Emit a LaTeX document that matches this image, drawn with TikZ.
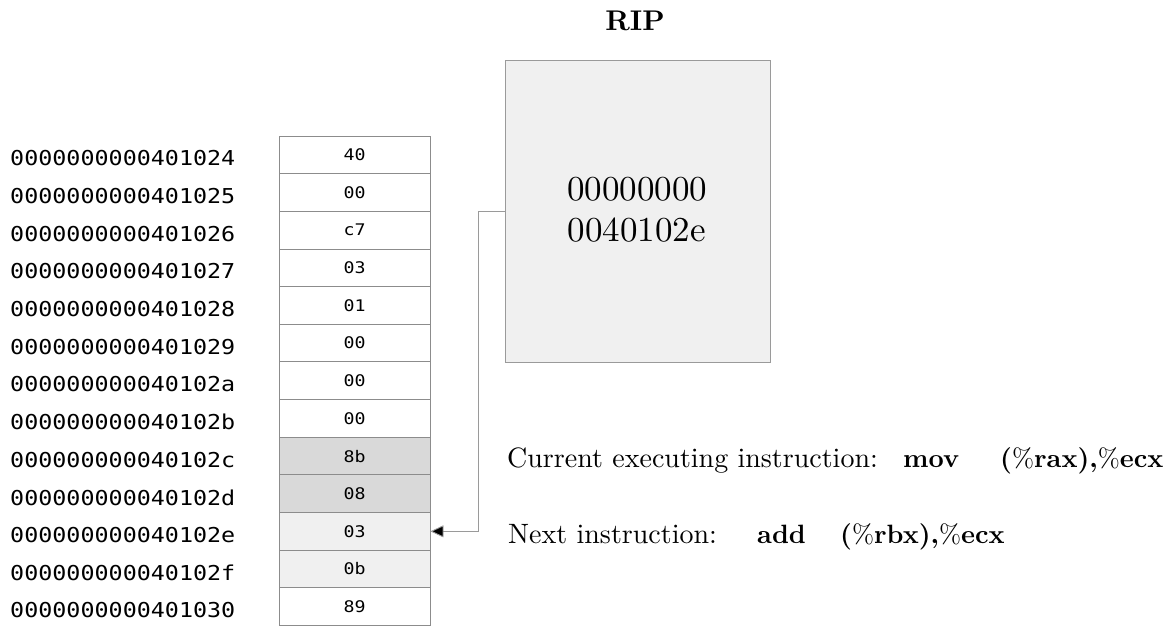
\documentclass[tikz,border=0pt]{standalone}
\usepackage{fontspec}
\newfontfamily\addrfont[FakeStretch=1.14]{DejaVu Sans Mono}
\newfontfamily\plainrm{lmroman10-regular.otf}
\newfontfamily\heavyrm{lmroman10-bold.otf}
\newcommand{\pct}{{\plainrm\%}}
\usetikzlibrary{arrows.meta}
\definecolor{cellline}{HTML}{8C8C8C}
\definecolor{hotcell}{HTML}{D9D9D9}
\definecolor{nextcell}{HTML}{F0F0F0}
\definecolor{ripfill}{HTML}{F0F0F0}
\definecolor{wire}{HTML}{9A9A9A}
\tikzset{
  cell/.style={draw=cellline, line width=0.9pt, minimum width=151pt, minimum height=37.65pt,
    inner sep=0pt, font=\addrfont\fontsize{16}{19}\selectfont},
  addr/.style={anchor=west, inner sep=0pt, font=\addrfont\fontsize{20.5}{24}\selectfont},
  reg/.style={draw=wire, fill=ripfill, line width=0.9pt, inner sep=0pt},
  note/.style={anchor=base west, inner sep=0pt, font=\plainrm\fontsize{28}{34}\selectfont},
  opcode/.style={anchor=base west, inner sep=0pt, font=\heavyrm\fontsize{26.5}{32}\selectfont},
  wirestyle/.style={draw=wire, line width=0.9pt},
}
\begin{document}
\begin{tikzpicture}[x=1pt,y=-1pt]
\useasboundingbox (0,0) rectangle (1172,625);

% memory column: addresses and byte cells
\foreach \i/\a/\v/\f in {0/024/40/white,1/025/00/white,2/026/c7/white,3/027/03/white,
  4/028/01/white,5/029/00/white,6/02a/00/white,7/02b/00/white,8/02c/8b/hotcell,
  9/02d/08/hotcell,10/02e/03/nextcell,11/02f/0b/nextcell,12/030/89/white}{
  \node[cell, fill=\f] (c\i) at (354.5, 136+37.65*\i+18.825) {\v};
  \node[addr] (a\i) at (10, 136+37.65*\i+22.5) {0000000000401\a};
}

% instruction pointer register
\node[font=\heavyrm\fontsize{28.5}{34}\selectfont, inner sep=0pt] (riplabel) at (635,21) {RIP};
\node[reg, minimum width=265pt, minimum height=302pt] (rip) at (637.5,211) {};
\node[font=\plainrm\fontsize{35}{41}\selectfont, align=center, inner sep=0pt] (ripval) at (637,210)
  {00000000\\0040102e};

% pointer from the register to the next byte
\coordinate (bend) at (478,211);
\draw[wirestyle, -{Triangle[length=13pt,width=12pt,fill=black]}] (rip.west) -- (bend) |- (c10.east);

% instruction notes
\node[note] (curlbl) at (507,467) {Current executing instruction:};
\node[opcode] (curop) at (903,467) {mov};
\node[opcode] (curarg) at (1000,467) {(\pct rax),\pct ecx};
\node[note] (nextlbl) at (508,543) {Next instruction:};
\node[opcode] (nextop) at (757,543) {add};
\node[opcode] (nextarg) at (840,543) {(\pct rbx),\pct ecx};
\end{tikzpicture}
\end{document}
